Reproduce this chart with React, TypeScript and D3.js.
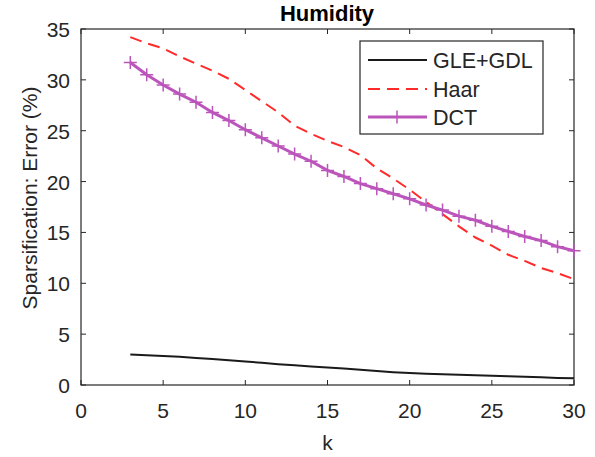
import React, { useRef, useEffect } from "react";
import * as d3 from "d3";

const kValues = [3, 4, 5, 6, 7, 8, 9, 10, 11, 12, 13, 14, 15, 16, 17, 18, 19, 20, 21, 22, 23, 24, 25, 26, 27, 28, 29, 30];
const gleGdl = [3.0, 2.93, 2.85, 2.78, 2.66, 2.55, 2.43, 2.32, 2.18, 2.05, 1.93, 1.82, 1.72, 1.62, 1.5, 1.38, 1.26, 1.17, 1.1, 1.05, 1.0, 0.95, 0.9, 0.85, 0.8, 0.75, 0.7, 0.66];
const haar = [34.2, 33.6, 33.1, 32.3, 31.6, 30.9, 30.1, 29.0, 27.9, 26.8, 25.5, 24.7, 24.0, 23.4, 22.6, 21.3, 20.3, 19.2, 18.0, 16.8, 15.6, 14.5, 13.7, 12.8, 12.2, 11.5, 11.0, 10.4];
const dct = [31.7, 30.5, 29.5, 28.6, 27.8, 26.8, 26.0, 25.1, 24.3, 23.5, 22.7, 22.0, 21.1, 20.5, 19.8, 19.3, 18.8, 18.3, 17.7, 17.2, 16.6, 16.2, 15.6, 15.1, 14.6, 14.2, 13.6, 13.2];
const xTicks = [0, 5, 10, 15, 20, 25, 30];
const yTicks = [0, 5, 10, 15, 20, 25, 30, 35];
const legendNames = ["GLE+GDL", "Haar", "DCT"];

const W = 595, H = 457;
const L = 81, R = 574, T = 29, B = 385;
const ink = "#262626";
const font = "'Liberation Sans', Arial, sans-serif";

export default function App() {
  const ref = useRef<SVGSVGElement>(null);

  useEffect(() => {
    const svg = d3.select(ref.current);
    svg.selectAll("*").remove();

    const x = d3.scaleLinear().domain([0, 30]).range([L, R]);
    const y = d3.scaleLinear().domain([0, 35]).range([B, T]);

    svg.append("rect").attr("width", W).attr("height", H).attr("fill", "white");

    // axes box
    svg.append("rect")
      .attr("x", L).attr("y", T).attr("width", R - L).attr("height", B - T)
      .attr("fill", "none").attr("stroke", ink).attr("stroke-width", 1.2);

    const g = svg.append("g").attr("font-family", font).attr("fill", ink);

    // inward ticks on all four sides
    xTicks.forEach(t => {
      g.append("line").attr("x1", x(t)).attr("x2", x(t)).attr("y1", B).attr("y2", B - 5).attr("stroke", ink);
      g.append("line").attr("x1", x(t)).attr("x2", x(t)).attr("y1", T).attr("y2", T + 5).attr("stroke", ink);
      g.append("text").attr("x", x(t)).attr("y", 418).attr("text-anchor", "middle")
        .attr("font-size", 21).text(t);
    });
    yTicks.forEach(t => {
      g.append("line").attr("x1", L).attr("x2", L + 5).attr("y1", y(t)).attr("y2", y(t)).attr("stroke", ink);
      g.append("line").attr("x1", R).attr("x2", R - 5).attr("y1", y(t)).attr("y2", y(t)).attr("stroke", ink);
      g.append("text").attr("x", 70).attr("y", y(t) + 8).attr("text-anchor", "end")
        .attr("font-size", 21).text(t);
    });

    g.append("text").attr("x", 327).attr("y", 21).attr("text-anchor", "middle")
      .attr("font-size", 22).attr("font-weight", "bold").attr("fill", "#000").text("Humidity");
    g.append("text").attr("x", (L + R) / 2).attr("y", 450).attr("text-anchor", "middle")
      .attr("font-size", 21).text("k");
    g.append("text").attr("transform", `translate(37,198) rotate(-90)`)
      .attr("text-anchor", "middle").attr("font-size", 21).text("Sparsification: Error (%)");

    const line = d3.line<number>().x((_, i) => x(kValues[i])).y(d => y(d));

    svg.append("path").datum(gleGdl).attr("d", line).attr("fill", "none")
      .attr("stroke", "#1a1a1a").attr("stroke-width", 2);
    svg.append("path").datum(haar).attr("d", line).attr("fill", "none")
      .attr("stroke", "#ff2a2a").attr("stroke-width", 2).attr("stroke-dasharray", "12,7");
    svg.append("path").datum(dct).attr("d", line).attr("fill", "none")
      .attr("stroke", "#bb55bb").attr("stroke-width", 3);

    const plus = (gg: any, cx: number, cy: number) => {
      gg.append("path").attr("d", `M${cx - 6.5},${cy}H${cx + 6.5}M${cx},${cy - 6.5}V${cy + 6.5}`)
        .attr("stroke", "#bb55bb").attr("stroke-width", 1.5).attr("fill", "none");
    };
    const markers = svg.append("g");
    dct.forEach((d, i) => plus(markers, x(kValues[i]), y(d)));

    // legend
    const lg = svg.append("g");
    lg.append("rect").attr("x", 360).attr("y", 41).attr("width", 183).attr("height", 93)
      .attr("fill", "white").attr("stroke", ink).attr("stroke-width", 1.2);
    const rows = [60, 89, 117];
    const styles = [
      { c: "#1a1a1a", w: 2, dash: null },
      { c: "#ff2a2a", w: 2, dash: "12,7" },
      { c: "#bb55bb", w: 3, dash: null },
    ];
    legendNames.forEach((n, i) => {
      const ln = lg.append("line").attr("x1", 368).attr("x2", 427).attr("y1", rows[i]).attr("y2", rows[i])
        .attr("stroke", styles[i].c).attr("stroke-width", styles[i].w);
      if (styles[i].dash) ln.attr("stroke-dasharray", styles[i].dash);
      lg.append("text").attr("x", 433).attr("y", rows[i] + 7.5).attr("font-family", font)
        .attr("font-size", 21.5).attr("fill", ink).text(n);
    });
    plus(lg, 397, rows[2]);
  }, []);

  return (
    <div style={{ position: "absolute", left: 0, top: 0 }}>
      <svg ref={ref} width={W} height={H} style={{ display: "block" }} />
    </div>
  );
}
